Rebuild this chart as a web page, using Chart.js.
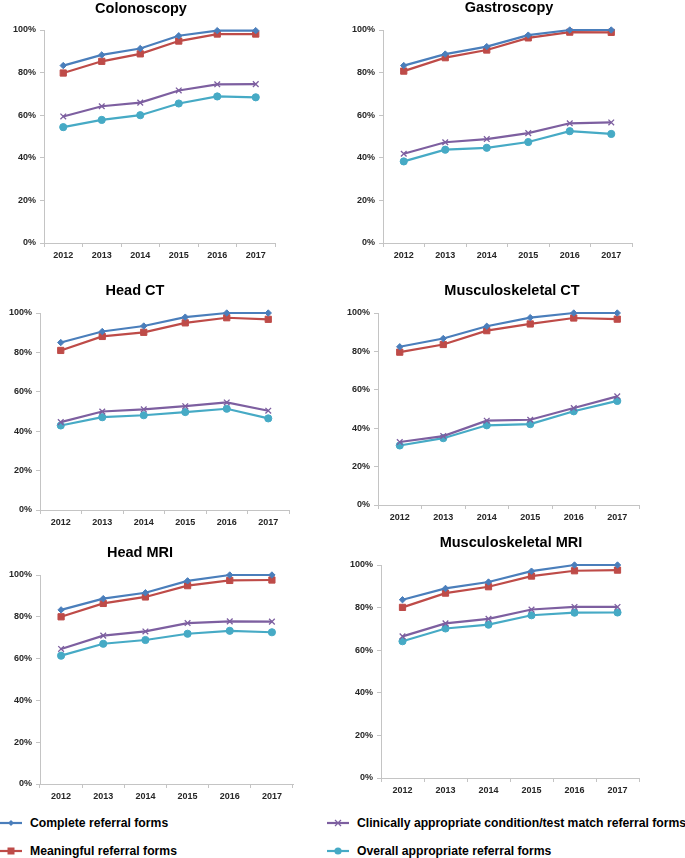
<!DOCTYPE html>
<html>
<head>
<meta charset="utf-8">
<script src="https://cdn.jsdelivr.net/npm/chart.js@4.4.1/dist/chart.umd.min.js"></script>
<style>
  html, body { margin: 0; padding: 0; background: #fff; }
  body { width: 685px; height: 858px; position: relative; overflow: hidden; font-family: 'Liberation Sans', Arial, sans-serif; }
  .panel { position: absolute; }
  .title { position: absolute; transform: translate(-50%, -50%); font-weight: bold; font-size: 14.5px; color: #000; white-space: nowrap; }
  .leg { position: absolute; display: flex; align-items: center; font-weight: bold; font-size: 12.2px; color: #000; white-space: nowrap; transform: translateY(-50%); }
  .leg svg { margin-right: 8px; }
</style>
</head>
<body>
<script>
// ---------- DATA ----------
const years = ['2012', '2013', '2014', '2015', '2016', '2017'];
const yTickValues = [0, 20, 40, 60, 80, 100];
const seriesNames = ['Complete referral forms', 'Meaningful referral forms',
  'Clinically appropriate condition/test match referral forms', 'Overall appropriate referral forms'];
const panelTitles = ['Colonoscopy', 'Gastroscopy', 'Head CT', 'Musculoskeletal CT', 'Head MRI', 'Musculoskeletal MRI'];

const colonoscopyComplete   = [83.3, 88.3, 91.3, 97.3, 99.7, 99.7];
const colonoscopyMeaningful = [79.8, 85.3, 88.8, 94.8, 98.1, 98.1];
const colonoscopyClinical   = [59.4, 64.2, 65.9, 71.6, 74.5, 74.6];
const colonoscopyOverall    = [54.4, 57.8, 60.0, 65.5, 68.8, 68.4];

const gastroscopyComplete   = [83.3, 88.7, 92.2, 97.6, 100, 100];
const gastroscopyMeaningful = [80.7, 87.0, 90.6, 96.3, 99.0, 98.9];
const gastroscopyClinical   = [41.9, 47.3, 48.8, 51.6, 56.2, 56.6];
const gastroscopyOverall    = [38.3, 43.8, 44.7, 47.4, 52.5, 51.2];

const headCTComplete   = [85.0, 90.6, 93.4, 97.9, 100, 100];
const headCTMeaningful = [81.0, 88.1, 90.2, 95.0, 97.6, 96.8];
const headCTClinical   = [44.6, 50.0, 51.1, 52.7, 54.6, 50.4];
const headCTOverall    = [42.9, 47.1, 48.1, 49.7, 51.4, 46.5];

const mskCTComplete   = [82.4, 86.7, 93.1, 97.6, 100, 100];
const mskCTMeaningful = [79.6, 83.6, 90.8, 94.3, 97.4, 96.8];
const mskCTClinical   = [32.8, 35.9, 43.9, 44.4, 50.5, 56.6];
const mskCTOverall    = [31.0, 34.8, 41.5, 42.1, 48.8, 54.2];

const headMRIComplete   = [83.3, 88.7, 91.5, 97.2, 100, 100];
const headMRIMeaningful = [80.0, 86.4, 89.5, 94.9, 97.4, 97.6];
const headMRIClinical   = [64.6, 71.0, 73.0, 77.0, 77.8, 77.7];
const headMRIOverall    = [61.4, 67.1, 68.9, 71.9, 73.3, 72.6];

const mskMRIComplete   = [83.7, 89.0, 92.0, 97.1, 100, 100];
const mskMRIMeaningful = [80.1, 86.8, 89.8, 94.8, 97.3, 97.6];
const mskMRIClinical   = [66.5, 72.6, 74.7, 79.1, 80.3, 80.3];
const mskMRIOverall    = [64.2, 70.2, 72.0, 76.4, 77.6, 77.7];

// ---------- STYLE / LAYOUT ----------
const colors = ['#4A7EBB', '#BE4B48', '#7D5FA0', '#46AAC5'];
const pointStyles = ['rectRot', 'rect', 'crossRot', 'circle'];
const pointRadii = [3.2, 4.4, 4, 3.6];
const axisColor = '#C4C4C4';
const tickFont = { family: "'Liberation Sans', Arial, sans-serif", size: 9, weight: 'bold' };

// container box and chart-area edges (page px)
const layouts = [
  { L: 0,   T: 0,   W: 330, H: 268, ax: 44,  ar: 275, at: 30,  ab: 243, tx: 141, ty: 8 },
  { L: 343, T: 0,   W: 342, H: 268, ax: 383, ar: 632, at: 30,  ab: 243, tx: 509, ty: 7 },
  { L: 0,   T: 270, W: 330, H: 262, ax: 40,  ar: 289, at: 313, ab: 510, tx: 135, ty: 290 },
  { L: 343, T: 270, W: 342, H: 258, ax: 378, ar: 639, at: 313, ab: 505, tx: 512, ty: 290 },
  { L: 0,   T: 530, W: 330, H: 278, ax: 40,  ar: 293, at: 575, ab: 784, tx: 140, ty: 552 },
  { L: 343, T: 530, W: 342, H: 270, ax: 381, ar: 639, at: 565, ab: 778, tx: 511, ty: 542 }
];

const panelData = [
  [colonoscopyComplete, colonoscopyMeaningful, colonoscopyClinical, colonoscopyOverall],
  [gastroscopyComplete, gastroscopyMeaningful, gastroscopyClinical, gastroscopyOverall],
  [headCTComplete, headCTMeaningful, headCTClinical, headCTOverall],
  [mskCTComplete, mskCTMeaningful, mskCTClinical, mskCTOverall],
  [headMRIComplete, headMRIMeaningful, headMRIClinical, headMRIOverall],
  [mskMRIComplete, mskMRIMeaningful, mskMRIClinical, mskMRIOverall]
];

panelData.forEach((series, i) => {
  const g = layouts[i];
  const div = document.createElement('div');
  div.className = 'panel';
  div.style.left = g.L + 'px'; div.style.top = g.T + 'px';
  div.style.width = g.W + 'px'; div.style.height = g.H + 'px';
  const cv = document.createElement('canvas');
  div.appendChild(cv);
  document.body.appendChild(div);

  const t = document.createElement('div');
  t.className = 'title';
  t.textContent = panelTitles[i];
  t.style.left = g.tx + 'px'; t.style.top = g.ty + 'px';
  document.body.appendChild(t);

  const yW = g.ax - g.L;
  const xH = g.T + g.H - g.ab;

  new Chart(cv, {
    type: 'line',
    data: {
      labels: years,
      datasets: series.map((vals, k) => ({
        label: seriesNames[k],
        data: vals,
        borderColor: colors[k],
        backgroundColor: colors[k],
        borderWidth: 2.2,
        pointStyle: pointStyles[k],
        pointRadius: pointRadii[k],
        pointBorderWidth: k === 2 ? 1.3 : 1,
        pointBorderColor: colors[k],
        pointBackgroundColor: colors[k],
        tension: 0,
        clip: false
      }))
    },
    options: {
      responsive: true,
      maintainAspectRatio: false,
      animation: false,
      devicePixelRatio: 1,
      layout: { padding: { left: 0, top: g.at - g.T, right: g.L + g.W - g.ar, bottom: 0 } },
      plugins: { legend: { display: false }, tooltip: { enabled: false }, title: { display: false } },
      scales: {
        x: {
          type: 'category',
          offset: true,
          grid: { display: true, drawOnChartArea: false, drawTicks: true, tickLength: 4, offset: true, color: axisColor },
          border: { display: true, color: axisColor, width: 1 },
          ticks: { font: tickFont, color: '#262626', padding: 3, maxRotation: 0, autoSkip: false },
          afterFit: (s) => { s.height = xH; }
        },
        y: {
          min: 0, max: 100,
          afterBuildTicks: (s) => { s.ticks = yTickValues.map(v => ({ value: v })); },
          grid: { display: true, drawOnChartArea: false, drawTicks: true, tickLength: 4, color: axisColor },
          border: { display: true, color: axisColor, width: 1 },
          ticks: { font: tickFont, color: '#262626', padding: 4, callback: (v) => v + '%' },
          afterFit: (s) => { s.width = yW; }
        }
      }
    }
  });
});

// ---------- LEGEND ----------
const legendPos = [
  { x: 0, y: 823 }, { x: 0, y: 851 }, { x: 327, y: 823 }, { x: 327, y: 851 }
];
function markerSVG(k) {
  const c = colors[k];
  let m = '';
  if (k === 0) m = `<polygon points="11,2 14,5 11,8 8,5" fill="${c}"/>`;
  else if (k === 1) m = `<rect x="7.5" y="1.5" width="7" height="7" fill="${c}"/>`;
  else if (k === 2) m = `<path d="M8,2 L14,8 M14,2 L8,8" stroke="${c}" stroke-width="1.3"/>`;
  else m = `<circle cx="11" cy="5" r="3.6" fill="${c}"/>`;
  return `<svg width="22" height="10" viewBox="0 0 22 10"><line x1="0" y1="5" x2="22" y2="5" stroke="${c}" stroke-width="2.2"/>${m}</svg>`;
}
seriesNames.forEach((name, k) => {
  const d = document.createElement('div');
  d.className = 'leg';
  d.style.left = legendPos[k].x + 'px';
  d.style.top = legendPos[k].y + 'px';
  d.innerHTML = markerSVG(k) + '<span>' + name + '</span>';
  document.body.appendChild(d);
});
</script>
</body>
</html>
